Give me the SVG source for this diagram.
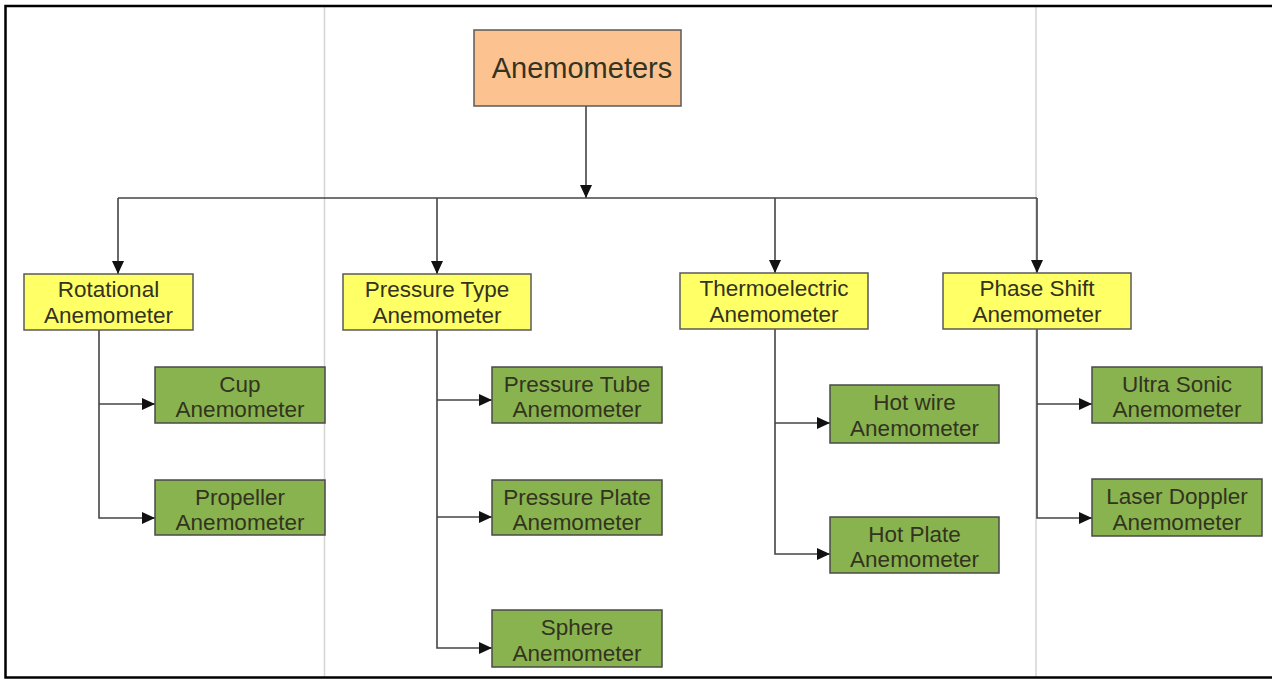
<svg xmlns="http://www.w3.org/2000/svg" width="1272" height="679" viewBox="0 0 1272 679">
  <style>
    .root { fill: #FCC391; stroke: #5a5a5a; stroke-width: 1.5; }
    .cat { fill: #FFFF66; stroke: #5a5a5a; stroke-width: 1.5; }
    .leaf { fill: #88B34F; stroke: #4a4a4a; stroke-width: 1.5; }
    text { font-family: "Liberation Sans", Arial, sans-serif; fill: #33331f; text-anchor: middle; }
    .t1 { font-size: 29px; }
    .t2 { font-size: 22.5px; }
    .conn { fill: none; stroke: #444; stroke-width: 1.6; }
    .guide { stroke: #d4d4d4; stroke-width: 1.5; }
    .frame { stroke: #000; stroke-width: 2.5; fill: none; }
  </style>
  <defs>
    <marker id="arr" markerUnits="userSpaceOnUse" markerWidth="15" markerHeight="13" refX="13" refY="6" orient="auto">
      <path d="M0,0 L13,6 L0,12 Z" fill="#111"/>
    </marker>
  </defs>
  <rect width="1272" height="679" fill="#fff"/>
  <g id="guides">
    <line class="guide" x1="324.5" y1="7" x2="324.5" y2="677"/>
    <line class="guide" x1="1036" y1="7" x2="1036" y2="677"/>
  </g>
  <g id="frame">
    <path class="frame" d="M1272,6 L5.5,6 L5.5,677.5 L1272,677.5"/>
  </g>
  <g id="connectors">
    <line class="conn" x1="586" y1="106" x2="586" y2="198" marker-end="url(#arr)"/>
    <line class="conn" x1="118" y1="198" x2="1037" y2="198"/>
    <line class="conn" x1="118" y1="198" x2="118" y2="274" marker-end="url(#arr)"/>
    <line class="conn" x1="437" y1="198" x2="437" y2="274" marker-end="url(#arr)"/>
    <line class="conn" x1="775" y1="198" x2="775" y2="273" marker-end="url(#arr)"/>
    <line class="conn" x1="1037" y1="198" x2="1037" y2="273" marker-end="url(#arr)"/>
    <path class="conn" d="M99,330 L99,518 L155,518" marker-end="url(#arr)"/>
    <line class="conn" x1="99" y1="404" x2="155" y2="404" marker-end="url(#arr)"/>
    <path class="conn" d="M437,330 L437,648 L492,648" marker-end="url(#arr)"/>
    <line class="conn" x1="437" y1="400" x2="492" y2="400" marker-end="url(#arr)"/>
    <line class="conn" x1="437" y1="517" x2="492" y2="517" marker-end="url(#arr)"/>
    <path class="conn" d="M775,329 L775,554 L830,554" marker-end="url(#arr)"/>
    <line class="conn" x1="775" y1="423" x2="830" y2="423" marker-end="url(#arr)"/>
    <path class="conn" d="M1037,329 L1037,518 L1092,518" marker-end="url(#arr)"/>
    <line class="conn" x1="1037" y1="404" x2="1092" y2="404" marker-end="url(#arr)"/>
  </g>
  <g id="root">
    <rect class="root" x="474" y="30" width="207" height="76"/>
    <text class="t1" x="582" y="78">Anemometers</text>
  </g>
  <g id="rotational">
    <rect class="cat" x="24" y="274" width="169" height="56"/>
    <text class="t2" x="108.5" y="297">Rotational</text>
    <text class="t2" x="108.5" y="323">Anemometer</text>
  </g>
  <g id="pressure-type">
    <rect class="cat" x="343" y="274" width="188" height="56"/>
    <text class="t2" x="437" y="297">Pressure Type</text>
    <text class="t2" x="437" y="323">Anemometer</text>
  </g>
  <g id="thermoelectric">
    <rect class="cat" x="680" y="273" width="188" height="56"/>
    <text class="t2" x="774" y="296">Thermoelectric</text>
    <text class="t2" x="774" y="322">Anemometer</text>
  </g>
  <g id="phase-shift">
    <rect class="cat" x="943" y="273" width="188" height="56"/>
    <text class="t2" x="1037" y="296">Phase Shift</text>
    <text class="t2" x="1037" y="322">Anemometer</text>
  </g>
  <g id="cup">
    <rect class="leaf" x="155" y="367" width="170" height="56"/>
    <text class="t2" x="240" y="392">Cup</text>
    <text class="t2" x="240" y="417">Anemometer</text>
  </g>
  <g id="propeller">
    <rect class="leaf" x="155" y="480" width="170" height="55"/>
    <text class="t2" x="240" y="505">Propeller</text>
    <text class="t2" x="240" y="530">Anemometer</text>
  </g>
  <g id="pressure-tube">
    <rect class="leaf" x="492" y="367" width="170" height="56"/>
    <text class="t2" x="577" y="392">Pressure Tube</text>
    <text class="t2" x="577" y="417">Anemometer</text>
  </g>
  <g id="pressure-plate">
    <rect class="leaf" x="492" y="480" width="170" height="55"/>
    <text class="t2" x="577" y="505">Pressure Plate</text>
    <text class="t2" x="577" y="530">Anemometer</text>
  </g>
  <g id="sphere">
    <rect class="leaf" x="492" y="610" width="170" height="57"/>
    <text class="t2" x="577" y="635">Sphere</text>
    <text class="t2" x="577" y="661">Anemometer</text>
  </g>
  <g id="hot-wire">
    <rect class="leaf" x="830" y="385" width="169" height="58"/>
    <text class="t2" x="914.5" y="410">Hot wire</text>
    <text class="t2" x="914.5" y="436">Anemometer</text>
  </g>
  <g id="hot-plate">
    <rect class="leaf" x="830" y="517" width="169" height="56"/>
    <text class="t2" x="914.5" y="542">Hot Plate</text>
    <text class="t2" x="914.5" y="567">Anemometer</text>
  </g>
  <g id="ultra-sonic">
    <rect class="leaf" x="1092" y="367" width="170" height="56"/>
    <text class="t2" x="1177" y="392">Ultra Sonic</text>
    <text class="t2" x="1177" y="417">Anemometer</text>
  </g>
  <g id="laser-doppler">
    <rect class="leaf" x="1092" y="479" width="170" height="57"/>
    <text class="t2" x="1177" y="504">Laser Doppler</text>
    <text class="t2" x="1177" y="530">Anemometer</text>
  </g>
</svg>
